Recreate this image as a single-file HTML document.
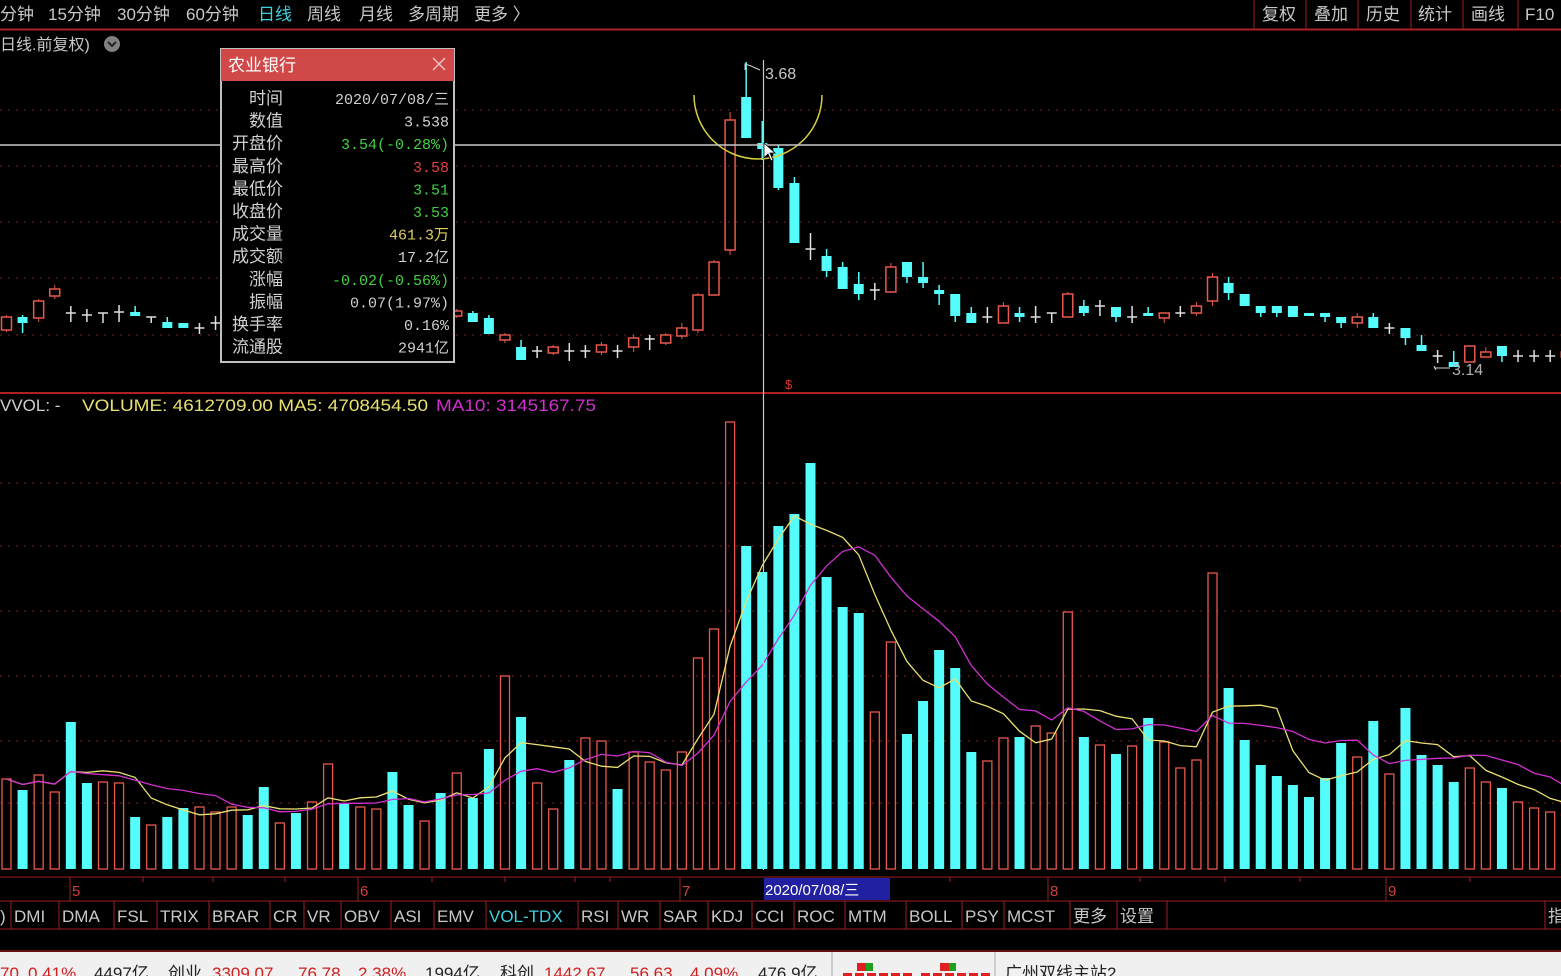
<!DOCTYPE html>
<html><head><meta charset="utf-8">
<style>
html,body{margin:0;padding:0;background:#000;width:1561px;height:976px;overflow:hidden;font-family:"Liberation Sans","Noto Sans CJK SC",sans-serif;}
svg{position:absolute;left:0;top:0}
.t{font-family:"Liberation Sans","Noto Sans CJK SC",sans-serif}
.m{font-family:"Liberation Mono","Noto Sans CJK SC",monospace}
</style></head><body>
<svg id="s" width="1561" height="976" xmlns="http://www.w3.org/2000/svg"></svg>
<script>
(function(){
var S=document.getElementById('s');var h='';
function X(i){return 6.5+16.08*i;}
h+='<line x1="0" y1="29.5" x2="1561" y2="29.5" stroke="#b02020" stroke-width="2"/>';
var topItems=[["分钟",0],["15分钟",48],["30分钟",117],["60分钟",186],["日线",258,"#40d0e0"],["周线",307],["月线",359],["多周期",408],["更多 〉",474]];
topItems.forEach(function(a){h+='<text x="'+a[1]+'" y="20" font-size="17" fill="'+(a[2]||'#c8c8c8')+'" class="t">'+a[0]+'</text>';});
var rb=[["复权",1262],["叠加",1314],["历史",1366],["统计",1418],["画线",1471],["F10",1525]];
[1254,1306,1358,1411,1463,1518].forEach(function(x){h+='<line x1="'+x+'" y1="0" x2="'+x+'" y2="29" stroke="#a02020"/>';});
rb.forEach(function(a){h+='<text x="'+a[1]+'" y="20" font-size="17" fill="#c8c8c8" class="t">'+a[0]+'</text>';});
h+='<text x="0" y="50" font-size="16" fill="#c8c8c8" class="t">日线.前复权)</text><circle cx="112" cy="44" r="8" fill="#808080"/><path d="M108 42 L112 46 L116 42" stroke="#222" stroke-width="2" fill="none"/>';
[110,166,222,278,335].forEach(function(y){h+='<line x1="0" y1="'+y+'" x2="1561" y2="'+y+'" stroke="#802020" stroke-dasharray="2,6"/>';});
h+='<line x1="0" y1="393" x2="1561" y2="393" stroke="#b02020" stroke-width="2"/>';
var C={0:[317,330,315,332,'r'],1:[317,323,315,333,'c'],2:[301,318,299,322,'r'],3:[289,296,285,299,'r'],4:[313,313,306,322,'x'],5:[315,315,309,322,'x'],6:[313,313,313,323,'x'],7:[312,312,305,322,'x'],8:[312,316,306,316,'c'],9:[317,317,317,323,'x'],10:[322,328,317,328,'c'],11:[323,328,323,328,'c'],12:[328,328,323,334,'x'],13:[323,323,316,330,'x'],
28:[311,316,309,318,'r'],29:[313,322,311,322,'c'],30:[318,334,315,334,'c'],31:[335,340,333,343,'r'],32:[347,360,340,360,'c'],33:[351,351,346,358,'x'],34:[347,353,345,355,'r'],35:[351,351,343,361,'x'],36:[351,351,345,358,'x'],37:[345,352,342,355,'r'],38:[351,351,345,358,'x'],39:[338,347,335,352,'r'],40:[339,339,335,350,'x'],41:[335,343,333,345,'r'],42:[328,336,323,339,'r'],43:[295,330,293,333,'r'],44:[262,295,260,296,'r'],45:[120,250,112,255,'r'],46:[97,138,62,138,'c'],47:[143,149,121,160,'c'],48:[148,188,145,190,'c'],
49:[183,243,177,243,'c'],50:[249,249,233,260,'x'],51:[256,271,249,277,'c'],52:[267,289,262,289,'c'],53:[284,294,272,300,'c'],54:[290,290,283,300,'x'],55:[267,292,263,293,'r'],56:[262,277,262,283,'c'],57:[277,283,262,288,'c'],58:[290,294,285,305,'c'],59:[294,316,294,322,'c'],60:[313,323,307,323,'c'],61:[317,317,307,323,'x'],62:[306,323,302,323,'r'],63:[313,317,307,322,'c'],64:[317,317,306,323,'x'],65:[313,313,313,323,'x'],66:[294,317,292,317,'r'],67:[306,313,300,316,'c'],68:[306,306,300,316,'x'],69:[307,317,307,322,'c'],70:[317,317,306,323,'x'],71:[313,316,307,316,'c'],72:[313,318,313,323,'r'],73:[313,313,306,317,'x'],74:[306,313,302,316,'r'],75:[277,301,273,306,'r'],76:[283,293,277,300,'c'],77:[294,306,294,306,'c'],78:[306,313,306,317,'c'],79:[306,313,306,317,'c'],80:[306,317,306,317,'c'],81:[313,316,313,316,'c'],82:[313,317,313,322,'c'],83:[317,323,317,328,'c'],84:[317,323,313,328,'r'],85:[317,328,313,328,'c'],86:[328,328,323,334,'x'],87:[328,338,328,345,'c'],88:[345,351,335,351,'c'],89:[356,356,350,363,'x'],90:[362,367,351,367,'c'],91:[346,362,346,362,'r'],92:[352,357,347,357,'r'],93:[346,356,346,362,'c'],94:[356,356,350,362,'x'],95:[356,356,350,362,'x'],96:[356,356,350,362,'x'],97:[352,357,350,360,'r']};
var RED='#e8584c',CY='#54fcfc';
Object.keys(C).forEach(function(k){var d=C[k],a=d[0],b=d[1],wt=d[2],wb=d[3],t=d[4];var x=X(+k);
 if(t=='x'){h+='<line x1="'+x+'" y1="'+wt+'" x2="'+x+'" y2="'+wb+'" stroke="#e0e0e0" stroke-width="1.5"/><line x1="'+(x-5)+'" y1="'+a+'" x2="'+(x+5)+'" y2="'+a+'" stroke="#e0e0e0" stroke-width="1.5"/>';}
 else if(t=='r'){h+='<line x1="'+x+'" y1="'+wt+'" x2="'+x+'" y2="'+a+'" stroke="'+RED+'"/><line x1="'+x+'" y1="'+b+'" x2="'+x+'" y2="'+wb+'" stroke="'+RED+'"/><rect x="'+(x-5)+'" y="'+a+'" width="10" height="'+(b-a)+'" fill="none" stroke="'+RED+'" stroke-width="1.5"/>';}
 else {h+='<line x1="'+x+'" y1="'+wt+'" x2="'+x+'" y2="'+wb+'" stroke="'+CY+'" stroke-width="1.5"/><rect x="'+(x-5)+'" y="'+a+'" width="10" height="'+Math.max(b-a,3)+'" fill="'+CY+'"/>';}
});
h+='<path d="M694 95 A64 64 0 0 0 822 95" stroke="#d8d040" stroke-width="1.5" fill="none"/>';
h+='<path d="M745 70 L745 64 L751 66 L760 70" stroke="#ccc" fill="none"/><text x="765" y="79" font-size="16" fill="#c8c8c8">3.68</text>';
h+='<path d="M1436 370 L1434 366 M1434 368 L1450 368" stroke="#ccc" fill="none"/><text x="1452" y="375" font-size="16" fill="#b0b0b0">3.14</text>';
h+='<text x="785" y="389" font-size="13" fill="#e03030">$</text>';
var V=[779,790,775,792,722,783,782,783,817,825,817,808,807,812,807,815,787,823,813,802,764,803,807,809,772,805,821,793,773,798,749,676,717,783,809,760,738,741,789,752,762,770,752,658,629,422,546,572,526,514,463,577,607,613,712,642,734,701,650,668,752,761,738,737,726,733,612,737,745,754,746,718,742,768,760,573,688,740,765,776,785,797,778,743,757,721,774,708,755,765,782,768,782,788,802,808,812,805];
var VC="rcrrccrrcr"+"ccrrrccrcr"+"rcrrccrcrc"+"crcrrcrrcr"+"rrrrrrcccc"+"ccccrrcccc"+"crrcrrrcrc"+"rcrrrrcccc"+"ccccrcrccc"+"crrcrrrr";
[483,546,611,676,741,803].forEach(function(y){h+='<line x1="0" y1="'+y+'" x2="1561" y2="'+y+'" stroke="#802020" stroke-dasharray="2,6"/>';});
V.forEach(function(t,i){var x=X(i);if(VC.charAt(i)=='r')h+='<rect x="'+(x-4.5)+'" y="'+t+'" width="9" height="'+(869-t)+'" fill="none" stroke="'+RED+'" stroke-width="1.3"/>';else h+='<rect x="'+(x-5)+'" y="'+t+'" width="10" height="'+(869-t)+'" fill="'+CY+'"/>';});
function ma(n,col){var p=[];for(var i=0;i<V.length;i++){var s=0,c=0;for(var j=Math.max(0,i-n+1);j<=i;j++){s+=869-V[j];c++;}p.push(X(i).toFixed(1)+','+(869-s/c).toFixed(1));}h+='<polyline points="'+p.join(' ')+'" fill="none" stroke="'+col+'" stroke-width="1.3"/>';}
ma(5,'#e8e070');ma(10,'#d030d0');
h+='<text x="0" y="411" font-size="17" fill="#d0d0d0">VVOL: -</text><text x="82" y="411" font-size="17" fill="#e8e070" textLength="346" lengthAdjust="spacingAndGlyphs">VOLUME: 4612709.00  MA5: 4708454.50</text><text x="436" y="411" font-size="17" fill="#d030d0" textLength="160" lengthAdjust="spacingAndGlyphs">MA10: 3145167.75</text>';
h+='<line x1="0" y1="145" x2="1561" y2="145" stroke="#c8c8c8" stroke-width="1.5"/><line x1="763.5" y1="60" x2="763.5" y2="878" stroke="#c8c8c8" stroke-width="1.2"/>';
h+='<path d="M764 143 L764 158 L768 154 L771 161 L773 160 L770 153 L775 153 Z" fill="#fff" stroke="#000" stroke-width="0.8"/>';
h+='<rect x="0" y="870" width="1561" height="106" fill="#000"/>';
h+='<line x1="0" y1="877" x2="1561" y2="877" stroke="#a02020"/><line x1="0" y1="901" x2="1561" y2="901" stroke="#a02020"/><line x1="0" y1="929" x2="1561" y2="929" stroke="#a02020"/>';
[[70,'5'],[358,'6'],[680,'7'],[1048,'8'],[1386,'9']].forEach(function(a){h+='<line x1="'+a[0]+'" y1="877" x2="'+a[0]+'" y2="901" stroke="#a02020"/><text x="'+(a[0]+2)+'" y="896" font-size="15" fill="#d04040">'+a[1]+'</text>';});
[143,213,285,432,505,575,610,950,1140,1225,1300,1470].forEach(function(x){h+='<line x1="'+x+'" y1="877" x2="'+x+'" y2="882" stroke="#a02020"/>';});
h+='<rect x="764" y="878" width="126" height="22" fill="#2020a0"/><text x="765" y="895" font-size="15" fill="#fff" class="t">2020/07/08/三</text>';
var tabs=[[")",0],["DMI",14],["DMA",62],["FSL",117],["TRIX",160],["BRAR",212],["CR",273],["VR",307],["OBV",344],["ASI",394],["EMV",437],["VOL-TDX",489,'#40d0e0'],["RSI",581],["WR",621],["SAR",663],["KDJ",711],["CCI",755],["ROC",797],["MTM",848],["BOLL",909],["PSY",965],["MCST",1007],["更多",1073],["设置",1120],["指",1548]];
tabs.forEach(function(a){h+='<line x1="'+(a[1]-3)+'" y1="901" x2="'+(a[1]-3)+'" y2="929" stroke="#a02020"/><text x="'+a[1]+'" y="922" font-size="17" fill="'+(a[2]||'#c8c8c8')+'" class="t">'+a[0]+'</text>';});
h+='<line x1="1167" y1="901" x2="1167" y2="929" stroke="#a02020"/>';
h+='<rect x="0" y="950" width="1561" height="2" fill="#601010"/><rect x="0" y="952" width="1561" height="24" fill="#f0f0f0"/>';
var st=[["70",0,1],["0.41%",28,1],["4497亿",94,0],["创业",168,0],["3309.07",212,1],["76.78",298,1],["2.38%",358,1],["1994亿",425,0],["科创",500,0],["1442.67",544,1],["56.63",630,1],["4.09%",690,1],["476.9亿",758,0],["广州双线主站2",1005,0]];
st.forEach(function(a){h+='<text x="'+a[1]+'" y="979" font-size="17" fill="'+(a[2]?'#d02020':'#222')+'" class="t">'+a[0]+'</text>';});
h+='<line x1="832" y1="952" x2="832" y2="976" stroke="#aaa"/><line x1="995" y1="952" x2="995" y2="976" stroke="#aaa"/>';
h+='<rect x="857" y="963" width="9" height="8" fill="#e02020"/><rect x="866" y="963" width="7" height="8" fill="#20a020"/><rect x="940" y="963" width="9" height="8" fill="#e02020"/><rect x="949" y="963" width="7" height="8" fill="#20a020"/>';
for(var i=0;i<6;i++){h+='<rect x="'+(843+i*12)+'" y="973" width="9" height="3" fill="#e02020"/><rect x="'+(921+i*12)+'" y="973" width="9" height="3" fill="#e02020"/>';}
h+='<rect x="221" y="49" width="233" height="313" fill="#000" stroke="#c0c0c0" stroke-width="2"/><rect x="221" y="49" width="233" height="32" fill="#d04848"/>';
h+='<text x="228" y="71" font-size="17" fill="#fff" class="t">农业银行</text><path d="M433 58 L445 70 M445 58 L433 70" stroke="#f0c0c0" stroke-width="1.5"/>';
var rows=[["时间","2020/07/08/三","#d0d0d0"],["数值","3.538","#d0d0d0"],["开盘价","3.54(-0.28%)","#40d040"],["最高价","3.58","#e04040"],["最低价","3.51","#40d040"],["收盘价","3.53","#40d040"],["成交量","461.3万","#e0d060"],["成交额","17.2亿","#d0d0d0"],["涨幅","-0.02(-0.56%)","#40d040"],["振幅","0.07(1.97%)","#d0d0d0"],["换手率","0.16%","#d0d0d0"],["流通股","2941亿","#d0d0d0"]];
rows.forEach(function(r,i){var y=104+i*22.6;h+='<text x="283" y="'+y+'" font-size="17" fill="#d0d0d0" text-anchor="end" class="t">'+r[0]+'</text><text x="449" y="'+y+'" font-size="15" fill="'+r[2]+'" text-anchor="end" class="m">'+r[1]+'</text>';});
S.innerHTML=h;
})();
</script>
</body></html>
